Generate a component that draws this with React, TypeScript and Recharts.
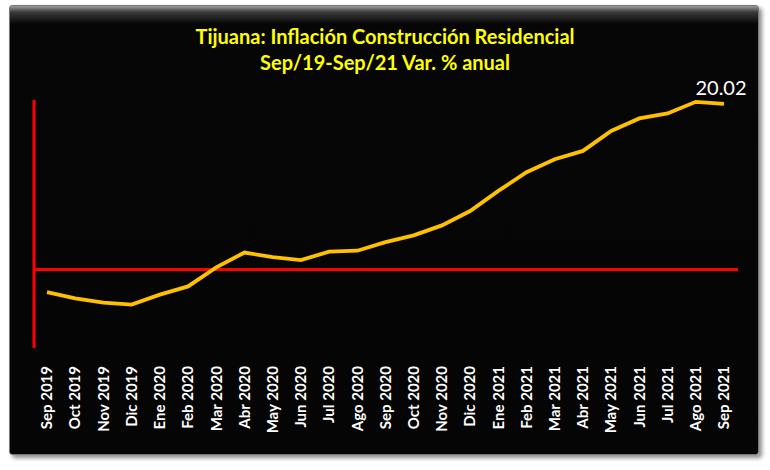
import { Line, LineChart, ReferenceLine, XAxis, YAxis } from 'recharts';

const months = [
  'Sep 2019', 'Oct 2019', 'Nov 2019', 'Dic 2019', 'Ene 2020', 'Feb 2020', 'Mar 2020',
  'Abr 2020', 'May 2020', 'Jun 2020', 'Jul 2020', 'Ago 2020', 'Sep 2020', 'Oct 2020',
  'Nov 2020', 'Dic 2020', 'Ene 2021', 'Feb 2021', 'Mar 2021', 'Abr 2021', 'May 2021',
  'Jun 2021', 'Jul 2021', 'Ago 2021', 'Sep 2021',
];

const inflacion = [
  -2.75, -3.5, -4.0, -4.25, -3.05, -2.05, 0.25,
  2.05, 1.5, 1.13, 2.15, 2.27, 3.3, 4.12,
  5.33, 7.07, 9.5, 11.76, 13.33, 14.34, 16.76,
  18.27, 18.87, 20.28, 20.02,
];

const data = months.map((mes, i) => ({ mes, valor: inflacion[i] }));
const lastIndex = data.length - 1;

const XTick = ({ x, y, payload }: any) => (
  <text
    x={x}
    y={y}
    transform={`rotate(-90 ${x} ${y})`}
    textAnchor="end"
    dy="0.35em"
    fill="#ffffff"
    fontFamily="Lato"
    fontWeight="bold"
    fontSize={15}
  >
    {payload.value}
  </text>
);

const LastLabel = ({ x, y, index, value }: any) => {
  if (index !== lastIndex) return null;
  return (
    <text x={x - 3} y={y - 9} textAnchor="middle" fill="#ffffff" fontFamily="Lato" fontSize={20}>
      {Number(value).toFixed(2)}
    </text>
  );
};

export default function App() {
  return (
    <div style={{ position: 'absolute', left: 0, top: 0, width: 770, height: 470, background: '#fff' }}>
      <div
        style={{
          position: 'absolute',
          left: 9,
          top: 5,
          width: 750,
          height: 450,
          borderRadius: 3,
          border: '1px solid #777',
          boxSizing: 'border-box',
          background: 'linear-gradient(to bottom, #9c9c9c 0px, #3c3c3c 6px, #060606 18px, #050505 100%)',
          boxShadow: '3px 3px 4px rgba(0,0,0,0.45)',
        }}
      />
      <div
        style={{
          position: 'absolute',
          left: 0,
          width: 770,
          top: 23,
          textAlign: 'center',
          color: '#ffff00',
          fontFamily: 'Lato',
          fontWeight: 'bold',
          fontSize: 20,
          lineHeight: '26px',
        }}
      >
        <div>Tijuana: Inflación Construcción Residencial</div>
        <div>Sep/19-Sep/21 Var. % anual</div>
      </div>
      <div style={{ position: 'absolute', left: 0, top: 0 }}>
        <LineChart width={770} height={470} data={data} margin={{ top: 100, right: 32, left: 24, bottom: 0 }}>
          <XAxis
            dataKey="mes"
            interval={0}
            height={122}
            tick={<XTick />}
            tickLine={false}
            axisLine={false}
            tickSize={0}
            tickMargin={18}
            padding={{ left: 13, right: 14 }}
          />
          <YAxis
            width={10}
            domain={[-9.5, 20.5]}
            tick={false}
            tickLine={false}
            axisLine={{ stroke: '#ff0000', strokeWidth: 3 }}
          />
          <ReferenceLine y={0} stroke="#ff0000" strokeWidth={3} />
          <Line
            type="linear"
            dataKey="valor"
            stroke="#ffc000"
            strokeWidth={3.8}
            dot={false}
            isAnimationActive={false}
            label={<LastLabel />}
          />
        </LineChart>
      </div>
    </div>
  );
}
